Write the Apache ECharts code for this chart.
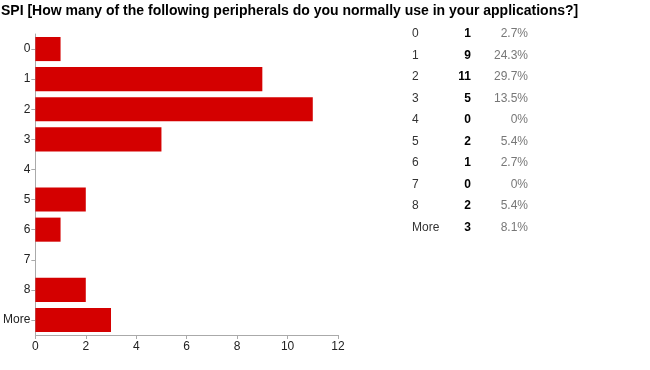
<!DOCTYPE html>
<html><head><meta charset="utf-8">
<script src="https://cdn.jsdelivr.net/npm/echarts@6/dist/echarts.min.js"></script>
<style>html,body{margin:0;padding:0;background:#fff}#c{width:650px;height:370px}</style>
</head><body><div id="c"></div>
<script>
const title = 'SPI [How many of the following peripherals do you normally use in your applications?]';
const categories = ['0','1','2','3','4','5','6','7','8','More'];
const counts = [1, 9, 11, 5, 0, 2, 1, 0, 2, 3];
const percents = ['2.7%','24.3%','29.7%','13.5%','0%','5.4%','2.7%','0%','5.4%','8.1%'];
const xTicks = [0, 2, 4, 6, 8, 10, 12];

const chart = echarts.init(document.getElementById('c'), null, {renderer: 'canvas'});
const font = 'Arial, "Liberation Sans", sans-serif';
const rowTop = 34, rowStep = 21.5;
const table = [];
categories.forEach((c, i) => {
  const y = rowTop + i * rowStep;
  table.push({type:'text', x: 412, y: y, style:{text: c, font: '12px ' + font, fill:'#333', align:'left', verticalAlign:'middle'}});
  table.push({type:'text', x: 471, y: y, style:{text: String(counts[i]), font: 'bold 12px ' + font, fill:'#000', align:'right', verticalAlign:'middle'}});
  table.push({type:'text', x: 528, y: y, style:{text: percents[i], font: '12px ' + font, fill:'#777', align:'right', verticalAlign:'middle'}});
});
chart.setOption({
  animation: false,
  title: {text: title, left: 1, top: 4, padding: 0, textStyle: {fontFamily: font, fontSize: 14, fontWeight: 'bold', color: '#000'}},
  grid: {left: 34, top: 34, width: 304, height: 301, containLabel: false},
  xAxis: {type: 'value', min: xTicks[0], max: xTicks[xTicks.length-1], interval: 2,
    axisLine: {show: true, lineStyle: {color: '#aaa'}},
    axisTick: {show: true, length: 4, lineStyle: {color: '#aaa'}},
    splitLine: {show: false},
    axisLabel: {color: '#222', fontFamily: font, fontSize: 12, margin: 6}},
  yAxis: {type: 'category', data: categories, inverse: true,
    axisLine: {show: true, lineStyle: {color: '#aaa'}},
    axisTick: {show: true, length: 4, alignWithLabel: true, lineStyle: {color: '#aaa'}},
    axisLabel: {color: '#222', fontFamily: font, fontSize: 12, margin: 5}},
  series: [{type: 'bar', data: counts, barCategoryGap: '20%', itemStyle: {color: '#d40000'}}],
  graphic: table
});
</script></body></html>
